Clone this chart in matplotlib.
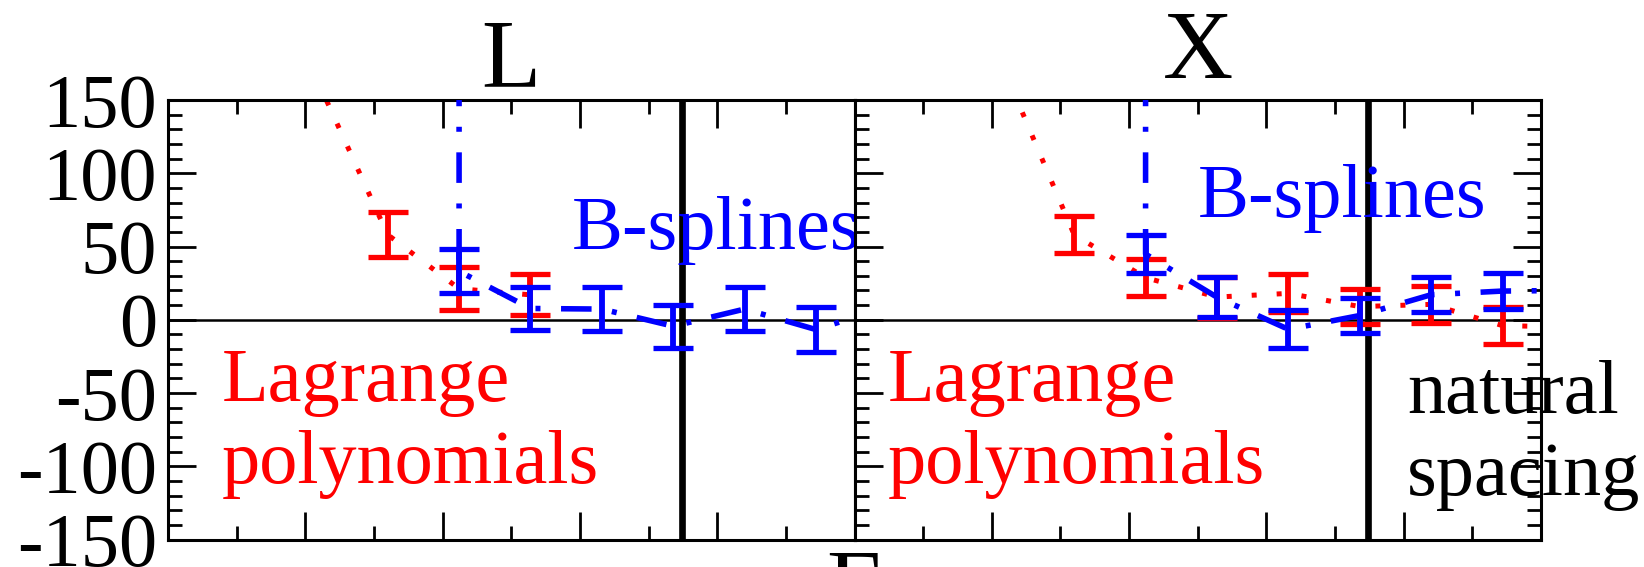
import matplotlib
matplotlib.use("Agg")
import matplotlib.pyplot as plt
from matplotlib.ticker import MultipleLocator

plt.rcParams['font.family'] = ['Liberation Serif', 'DejaVu Serif']
plt.rcParams['axes.unicode_minus'] = False

# values; first/last points lie outside the frame
# and only set the direction of the connecting lines
L_lag_x = [1.08, 1.60, 2.12, 2.64]
L_lag_y = [165, 58.1, 21.2, 17.0]
L_lag_err = [0, 15.4, 14.7, 14.0]

L_bsp_x = [2.12, 2.12, 2.64, 3.16, 3.68, 4.20, 4.72, 5.24]
L_bsp_y = [500, 33.1, 7.7, 7.3, -4.4, 7.3, -6.7, 9]
L_bsp_err = [0, 15.0, 15.0, 15.0, 14.7, 15.0, 15.2, 15]

X_lag_x = [1.08, 1.60, 2.12, 2.64, 3.16, 3.68, 4.20, 4.72, 5.24]
X_lag_y = [173, 58.0, 28.7, 15.5, 18.0, 9.0, 10.5, -4.0, -5]
X_lag_err = [0, 12.7, 12.7, 14.0, 13.0, 12.0, 12.4, 12.4, 12]

X_bsp_x = [2.12, 2.12, 2.64, 3.16, 3.68, 4.20, 4.72, 5.24]
X_bsp_y = [500, 44.8, 15.4, -6.5, 2.9, 17.1, 19.6, 20]
X_bsp_err = [0, 13.0, 13.7, 13.0, 12.1, 12.1, 12.4, 12]

natural_x = 3.74
titles = ['L', 'X']


def draw_panel(ax, title, title_pad, lag, bsp, show_ylabels):
    ax.set_xlim(0, 5)
    ax.set_ylim(-150, 150)
    ax.axhline(0, color='k', lw=1.8, zorder=1)
    ax.axvline(natural_x, color='k', lw=4.8, zorder=1)

    lx, ly, le = lag
    ax.plot(lx, ly, color='red', lw=3.6, dashes=(1, 4), zorder=2)
    ax.errorbar(lx[1:], ly[1:], yerr=le[1:], fmt='none', ecolor='red',
                elinewidth=4.2, capsize=14.4, capthick=3.8, zorder=3)
    bx, by, be = bsp
    ax.plot(bx, by, color='blue', lw=4, dashes=(5.5, 3.7, 0.9, 3.7), zorder=4)
    ax.errorbar(bx[1:], by[1:], yerr=be[1:], fmt='none', ecolor='blue',
                elinewidth=4.2, capsize=14.4, capthick=3.8, zorder=5)

    ax.xaxis.set_major_locator(MultipleLocator(1))
    ax.xaxis.set_minor_locator(MultipleLocator(0.5))
    ax.yaxis.set_major_locator(MultipleLocator(50))
    ax.yaxis.set_minor_locator(MultipleLocator(10))
    ax.tick_params(which='both', direction='in', top=True, bottom=True,
                   left=True, right=not show_ylabels, width=2,
                   labelbottom=False, labelleft=show_ylabels,
                   labelsize=55, pad=8)
    ax.tick_params(which='major', length=20)
    ax.tick_params(which='minor', length=10)
    for s in ax.spines.values():
        s.set_linewidth(2.2)
    ax.set_title(title, fontsize=70, pad=title_pad, y=1.0)


fig = plt.figure(figsize=(16.44, 5.67), dpi=100)
ax1 = fig.add_axes([0.10219, 0.0485, 0.41758, 0.7751])
ax2 = fig.add_axes([0.51977, 0.0485, 0.41758, 0.7751])

draw_panel(ax1, titles[0], 10, (L_lag_x, L_lag_y, L_lag_err),
           (L_bsp_x, L_bsp_y, L_bsp_err), True)
draw_panel(ax2, titles[1], 16, (X_lag_x, X_lag_y, X_lag_err),
           (X_bsp_x, X_bsp_y, X_bsp_err), False)

# multi-line texts: y is the baseline of the last line
ax1.text(0.393, -111.7, 'Lagrange\npolynomials', color='red', fontsize=55,
         ha='left', va='baseline', linespacing=1.25)
ax2.text(0.244, -111.7, 'Lagrange\npolynomials', color='red', fontsize=55,
         ha='left', va='baseline', linespacing=1.25)
ax1.text(2.942, 48.2, 'B-splines', color='blue', fontsize=55,
         ha='left', va='baseline')
ax2.text(2.502, 70.0, 'B-splines', color='blue', fontsize=55,
         ha='left', va='baseline')
ax2.text(4.024, -119.9, 'natural\nspacing', color='black', fontsize=55,
         ha='left', va='baseline', linespacing=1.25)

fig.text(856 / 1644, -0.088, 'E', fontsize=70, ha='center', va='baseline')

fig.savefig('out.png', dpi=100)
